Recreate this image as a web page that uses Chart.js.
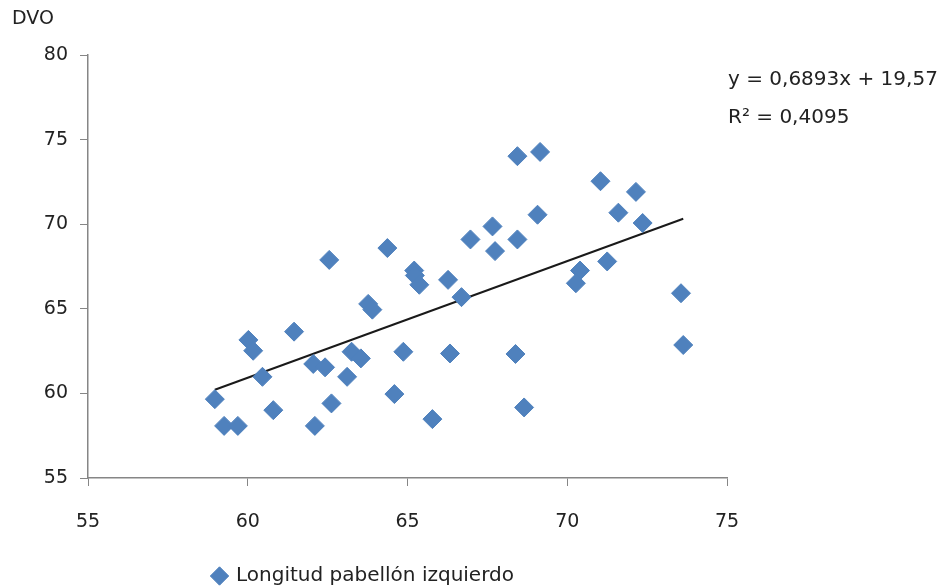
<!DOCTYPE html>
<html>
<head>
<meta charset="utf-8">
<script src="https://cdn.jsdelivr.net/npm/chart.js@4"></script>
<style>
  html, body { margin: 0; padding: 0; background: #fff; }
  #wrap { width: 945px; height: 588px; }
</style>
</head>
<body>
<div id="wrap"><canvas id="chart" width="945" height="588"></canvas></div>
<script>
// Longitud pabellón izquierdo (x) vs DVO (y)
const longitud = [58.97, 59.26, 59.69, 60.02, 60.17, 60.46, 60.80, 61.45, 62.55, 62.10,
    62.05, 62.42, 62.62, 63.11, 63.25, 63.54, 63.77, 63.90, 64.37, 64.59,
    64.87, 65.21, 65.23, 65.37, 65.78, 66.27, 66.33, 66.69, 66.97, 67.66,
    67.74, 68.44, 68.44, 68.38, 68.65, 69.15, 69.07, 70.40, 70.27, 71.25,
    71.04, 71.60, 72.15, 72.36, 73.56, 73.63];
const dvo = [59.66, 58.08, 58.08, 63.16, 62.52, 60.98, 59.01, 63.65, 67.89, 58.08,
    61.74, 61.54, 59.41, 60.98, 62.46, 62.07, 65.29, 64.95, 68.59, 59.96,
    62.46, 67.26, 66.97, 66.42, 58.48, 66.71, 62.36, 65.69, 69.10, 69.87,
    68.41, 74.02, 69.10, 62.33, 59.17, 74.27, 70.56, 67.26, 66.51, 67.80,
    72.54, 70.68, 71.91, 70.07, 65.92, 62.86];

// trend line as printed on the chart
const slope = 0.6893;
const intercept = 19.57;
const eqLabel = 'y = 0,6893x + 19,57';
const r2Label = 'R² = 0,4095';
const seriesName = 'Longitud pabellón izquierdo';
const yTitle = 'DVO';

const points = longitud.map((x, i) => ({ x: x, y: dvo[i] }));
const xMin = Math.min(...longitud);
const xMax = Math.max(...longitud);
const trend = [
    { x: xMin, y: slope * xMin + intercept },
    { x: xMax, y: slope * xMax + intercept }
];

const font = 'DejaVu Sans';
const blue = '#4F81BD';
const axisColor = '#868686';

// extra texts: axis title and the equation
const labelsPlugin = {
    id: 'labels',
    afterDraw(chart) {
        const ctx = chart.ctx;
        ctx.save();
        ctx.fillStyle = '#222';
        ctx.textBaseline = 'middle';
        ctx.textAlign = 'left';
        ctx.font = '19px "' + font + '"';
        ctx.fillText(yTitle, 12, 19);
        ctx.font = '20px "' + font + '"';
        ctx.fillText(eqLabel, 728, 80);
        ctx.fillText(r2Label, 728, 118);
        ctx.restore();
    }
};

new Chart(document.getElementById('chart'), {
    type: 'scatter',
    data: {
        datasets: [
            {
                label: seriesName,
                data: points,
                pointStyle: 'rectRot',
                pointRadius: 9.5,
                pointHoverRadius: 9.5,
                backgroundColor: blue,
                borderColor: blue,
                borderWidth: 1,
            },
            {
                label: 'trend',
                type: 'line',
                data: trend,
                borderColor: '#1a1a1a',
                borderWidth: 2,
                pointRadius: 0,
                fill: false,
            }
        ]
    },
    options: {
        responsive: false,
        animation: false,
        layout: { padding: { left: 0, right: 218, top: 55, bottom: -8 } },
        plugins: {
            tooltip: { enabled: false },
            legend: {
                position: 'bottom',
                labels: {
                    filter: item => item.text !== 'trend',
                    usePointStyle: true,
                    pointStyle: 'rectRot',
                    boxWidth: 13,
                    boxHeight: 13,
                    color: '#222',
                    font: { family: font, size: 20 },
                    padding: 0,
                }
            }
        },
        scales: {
            x: {
                type: 'linear',
                min: 55,
                max: 75,
                afterFit: s => { s.height = 88; },
                grid: { display: true, drawOnChartArea: false, drawTicks: true, tickLength: 8, color: axisColor },
                border: { color: axisColor, width: 1.5 },
                ticks: { stepSize: 5, padding: 25, color: '#222', font: { family: font, size: 19 } }
            },
            y: {
                type: 'linear',
                min: 55,
                max: 80,
                afterFit: s => { s.width = 88; },
                grid: { display: true, drawOnChartArea: false, drawTicks: true, tickLength: 8, color: axisColor },
                border: { color: axisColor, width: 1.5 },
                ticks: { stepSize: 5, padding: 12, color: '#222', font: { family: font, size: 19 } }
            }
        }
    },
    plugins: [labelsPlugin]
});
</script>
</body>
</html>
